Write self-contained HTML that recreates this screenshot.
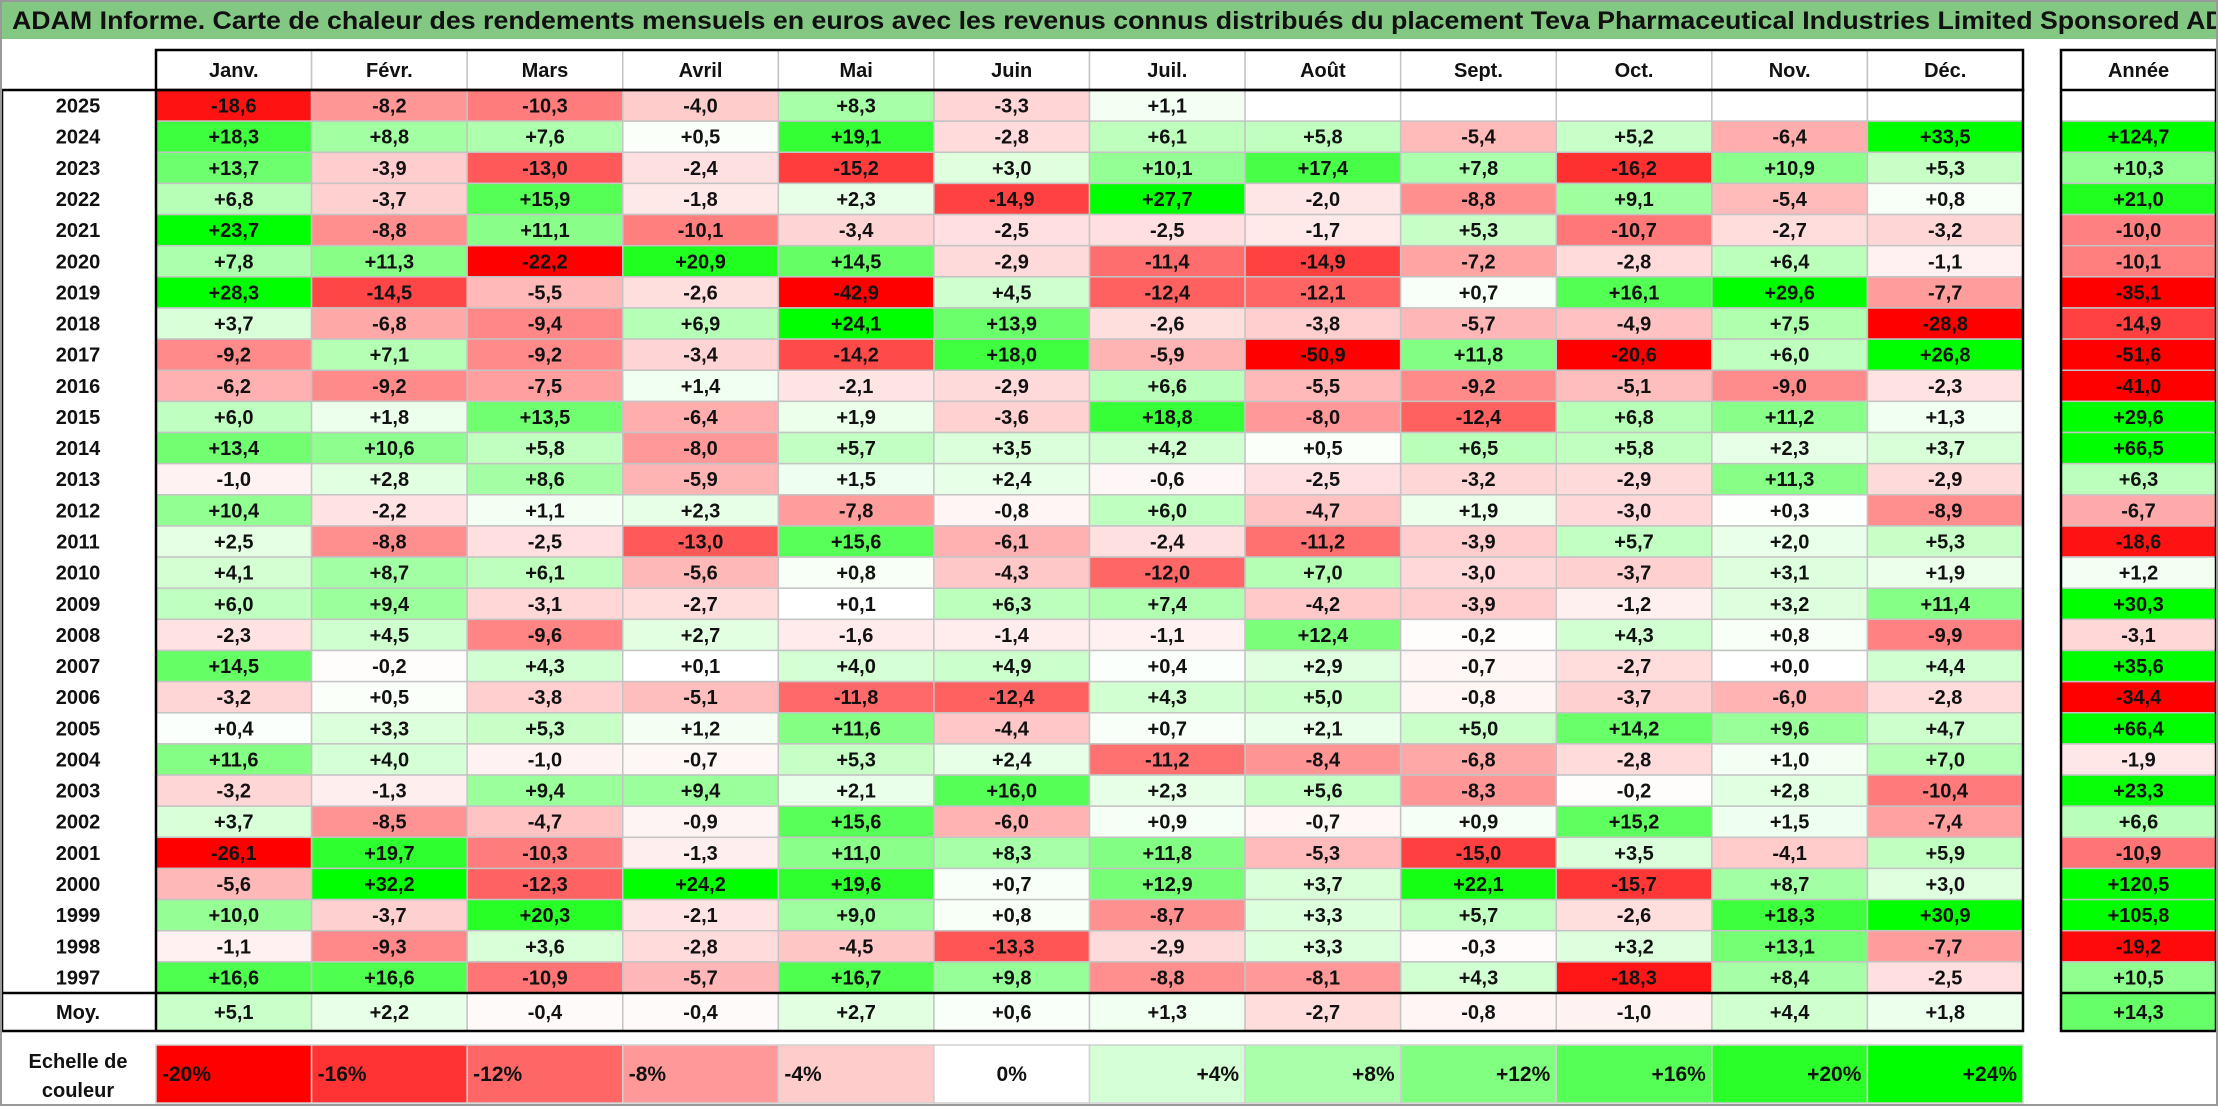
<!DOCTYPE html>
<html><head><meta charset="utf-8"><style>
html,body{margin:0;padding:0;background:#fff;}
svg{display:block;font-family:"Liberation Sans",Arial,sans-serif;}
</style></head><body>
<svg id="chart" width="2218" height="1106" viewBox="0 0 2218 1106" xmlns="http://www.w3.org/2000/svg">
<rect x="0" y="0" width="2218" height="1106" fill="#fff"/>
<rect x="1" y="1" width="2216" height="38" fill="#82c882"/>
<text x="12" y="29" font-size="25" font-weight="bold" fill="#111" textLength="2232" lengthAdjust="spacingAndGlyphs">ADAM Informe. Carte de chaleur des rendements mensuels en euros avec les revenus connus distribués du placement Teva Pharmaceutical Industries Limited Sponsored ADR</text>
<g id="cells"></g>
<rect x="1" y="1" width="2216" height="1104" fill="none" stroke="#999" stroke-width="2"/>
</svg>
<script>
const months = ["Janv.","Févr.","Mars","Avril","Mai","Juin","Juil.","Août","Sept.","Oct.","Nov.","Déc."];
const years = ["2025","2024","2023","2022","2021","2020","2019","2018","2017","2016","2015","2014","2013","2012","2011","2010","2009","2008","2007","2006","2005","2004","2003","2002","2001","2000","1999","1998","1997"];
const values = [
[-18.6,-8.2,-10.3,-4.0,8.3,-3.3,1.1,null,null,null,null,null],
[18.3,8.8,7.6,0.5,19.1,-2.8,6.1,5.8,-5.4,5.2,-6.4,33.5],
[13.7,-3.9,-13.0,-2.4,-15.2,3.0,10.1,17.4,7.8,-16.2,10.9,5.3],
[6.8,-3.7,15.9,-1.8,2.3,-14.9,27.7,-2.0,-8.8,9.1,-5.4,0.8],
[23.7,-8.8,11.1,-10.1,-3.4,-2.5,-2.5,-1.7,5.3,-10.7,-2.7,-3.2],
[7.8,11.3,-22.2,20.9,14.5,-2.9,-11.4,-14.9,-7.2,-2.8,6.4,-1.1],
[28.3,-14.5,-5.5,-2.6,-42.9,4.5,-12.4,-12.1,0.7,16.1,29.6,-7.7],
[3.7,-6.8,-9.4,6.9,24.1,13.9,-2.6,-3.8,-5.7,-4.9,7.5,-28.8],
[-9.2,7.1,-9.2,-3.4,-14.2,18.0,-5.9,-50.9,11.8,-20.6,6.0,26.8],
[-6.2,-9.2,-7.5,1.4,-2.1,-2.9,6.6,-5.5,-9.2,-5.1,-9.0,-2.3],
[6.0,1.8,13.5,-6.4,1.9,-3.6,18.8,-8.0,-12.4,6.8,11.2,1.3],
[13.4,10.6,5.8,-8.0,5.7,3.5,4.2,0.5,6.5,5.8,2.3,3.7],
[-1.0,2.8,8.6,-5.9,1.5,2.4,-0.6,-2.5,-3.2,-2.9,11.3,-2.9],
[10.4,-2.2,1.1,2.3,-7.8,-0.8,6.0,-4.7,1.9,-3.0,0.3,-8.9],
[2.5,-8.8,-2.5,-13.0,15.6,-6.1,-2.4,-11.2,-3.9,5.7,2.0,5.3],
[4.1,8.7,6.1,-5.6,0.8,-4.3,-12.0,7.0,-3.0,-3.7,3.1,1.9],
[6.0,9.4,-3.1,-2.7,0.1,6.3,7.4,-4.2,-3.9,-1.2,3.2,11.4],
[-2.3,4.5,-9.6,2.7,-1.6,-1.4,-1.1,12.4,-0.2,4.3,0.8,-9.9],
[14.5,-0.2,4.3,0.1,4.0,4.9,0.4,2.9,-0.7,-2.7,0.0,4.4],
[-3.2,0.5,-3.8,-5.1,-11.8,-12.4,4.3,5.0,-0.8,-3.7,-6.0,-2.8],
[0.4,3.3,5.3,1.2,11.6,-4.4,0.7,2.1,5.0,14.2,9.6,4.7],
[11.6,4.0,-1.0,-0.7,5.3,2.4,-11.2,-8.4,-6.8,-2.8,1.0,7.0],
[-3.2,-1.3,9.4,9.4,2.1,16.0,2.3,5.6,-8.3,-0.2,2.8,-10.4],
[3.7,-8.5,-4.7,-0.9,15.6,-6.0,0.9,-0.7,0.9,15.2,1.5,-7.4],
[-26.1,19.7,-10.3,-1.3,11.0,8.3,11.8,-5.3,-15.0,3.5,-4.1,5.9],
[-5.6,32.2,-12.3,24.2,19.6,0.7,12.9,3.7,22.1,-15.7,8.7,3.0],
[10.0,-3.7,20.3,-2.1,9.0,0.8,-8.7,3.3,5.7,-2.6,18.3,30.9],
[-1.1,-9.3,3.6,-2.8,-4.5,-13.3,-2.9,3.3,-0.3,3.2,13.1,-7.7],
[16.6,16.6,-10.9,-5.7,16.7,9.8,-8.8,-8.1,4.3,-18.3,8.4,-2.5]
];
const yearTotals = [null,124.7,10.3,21.0,-10.0,-10.1,-35.1,-14.9,-51.6,-41.0,29.6,66.5,6.3,-6.7,-18.6,1.2,30.3,-3.1,35.6,-34.4,66.4,-1.9,23.3,6.6,-10.9,120.5,105.8,-19.2,10.5];
const averages = [5.1,2.2,-0.4,-0.4,2.7,0.6,1.3,-2.7,-0.8,-1.0,4.4,1.8];
const averageTotal = 14.3;
const scaleSteps = [-20,-16,-12,-8,-4,0,4,8,12,16,20,24];

const NS="http://www.w3.org/2000/svg";
const g=document.getElementById('cells');
const X0=156, CW=(2023-156)/12, AX=2061, AW=2216-2061;
const HT=50, HB=90, RH=(993-90)/29, MT=993, MB=1031, LT=1045, LB=1103;
function xCol(i){return X0+i*CW;}
function yRow(r){return HB+r*RH;}
function color(v){
  if(v===null) return "#ffffff";
  if(v<0){const t=Math.min(1,-v/20);const c=Math.round(255*(1-t));return `rgb(255,${c},${c})`;}
  const t=Math.min(1,v/24);const c=Math.round(255*(1-t));return `rgb(${c},255,${c})`;
}
function fmt(v){if(v===null)return "";return (v>=0?"+":"-")+Math.abs(v).toFixed(1).replace('.',',');}
function mk(tag,attrs,name){const e=document.createElementNS(NS,tag);for(const k in attrs)e.setAttribute(k,attrs[k]);
  
  
  g.appendChild(e);return e;}
function txt(x,y,s,name,anchor,size){const e=mk('text',{x:x,y:y,'font-size':size||20,'font-weight':'bold','text-anchor':anchor||'middle',fill:'#111'},name);e.textContent=s;return e;}
function cell(x,y,w,h,v,name){
  mk('rect',{x:x,y:y,width:w,height:h,fill:color(v),stroke:'#c4c4c4','stroke-width':1.5},name+'-cell');
  txt(x+w/2,y+h/2+7,fmt(v),name+'-value');
}
months.forEach((m,i)=>{mk('rect',{x:xCol(i),y:HT,width:CW,height:HB-HT,fill:'#fff',stroke:'#c4c4c4','stroke-width':1.5},'header-'+i);txt(xCol(i)+CW/2,HT+27,m,'month-label');});
mk('rect',{x:AX,y:HT,width:AW,height:HB-HT,fill:'#fff'},'annee-header');
txt(AX+AW/2,HT+27,'Année','annee-label');
years.forEach((yr,r)=>{
  const y=yRow(r);
  txt(X0/2,y+RH/2+7,yr,'year-label');
  values[r].forEach((v,i)=>cell(xCol(i),y,CW,RH,v,'cell-'+yr+'-'+i));
  cell(AX,y,AW,RH,yearTotals[r],'total-'+yr);
});
txt(X0/2,MT+(MB-MT)/2+7,'Moy.','avg-label');
averages.forEach((v,i)=>cell(xCol(i),MT,CW,MB-MT,v,'avg-'+i));
cell(AX,MT,AW,MB-MT,averageTotal,'avg-total');
const B={fill:'none',stroke:'#000','stroke-width':2.5};
mk('rect',Object.assign({x:X0,y:HT,width:12*CW,height:HB-HT},B),'header-border');
mk('rect',Object.assign({x:2,y:HB,width:2021,height:MB-HB},B),'table-border');
mk('line',{x1:X0,y1:HB,x2:X0,y2:MB,stroke:'#000','stroke-width':2.5},'label-col-border');
mk('line',{x1:2,y1:MT,x2:2023,y2:MT,stroke:'#000','stroke-width':2.5},'avg-top-border');
mk('rect',Object.assign({x:AX,y:HT,width:AW,height:MB-HT},B),'annee-border');
mk('line',{x1:AX,y1:HB,x2:AX+AW,y2:HB,stroke:'#000','stroke-width':2.5},'annee-header-line');
mk('line',{x1:AX,y1:MT,x2:AX+AW,y2:MT,stroke:'#000','stroke-width':2.5},'annee-avg-line');
txt(X0/2,LT+23,'Echelle de','legend-title');
txt(X0/2,LT+52,'couleur','legend-title');
scaleSteps.forEach((s,i)=>{
  const x=xCol(i);
  mk('rect',{x:x,y:LT,width:CW,height:LB-LT,fill:color(s),stroke:'#d0d0d0','stroke-width':1.5},'legend-swatch');
  const lab=(s>0?'+':'')+s+'%';
  if(s<0) txt(x+6,LT+36,lab,'legend-label','start',21);
  else if(s===0) txt(x+CW/2,LT+36,lab,'legend-label','middle',21);
  else txt(x+CW-6,LT+36,lab,'legend-label','end',21);
});
</script>
</body></html>
